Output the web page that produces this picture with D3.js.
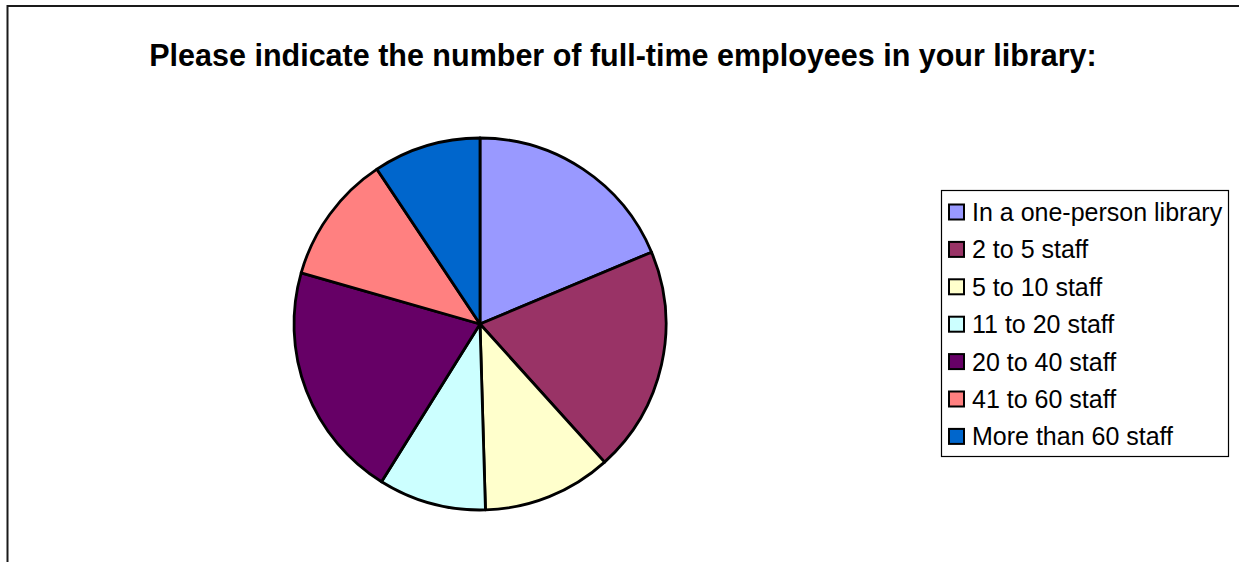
<!DOCTYPE html>
<html>
<head>
<meta charset="utf-8">
<script src="https://cdn.jsdelivr.net/npm/d3@7"></script>
<style>
  body { margin: 0; background: #fff; }
  text { font-family: "Liberation Sans", Arial, sans-serif; }
</style>
</head>
<body>
<svg id="chart" width="1239" height="562"></svg>
<script>
"use strict";

var TITLE = "Please indicate the number of full-time employees in your library:";
var categories = [
  "In a one-person library",
  "2 to 5 staff",
  "5 to 10 staff",
  "11 to 20 staff",
  "20 to 40 staff",
  "41 to 60 staff",
  "More than 60 staff",
];
var responses = [20, 21, 12, 10, 22, 12, 10];
var sliceColors = ["#9999FF", "#993366", "#FFFFCC", "#CCFFFF", "#660066", "#FF8080", "#0066CC"];

var svg = d3.select("#chart");

// chart area frame (runs off the right and bottom edges)
svg.append("rect")
  .attr("x", 7.5).attr("y", 6)
  .attr("width", 1400).attr("height", 800)
  .attr("fill", "#fff")
  .attr("stroke", "#1a1a1a")
  .attr("stroke-width", 2);

svg.append("text")
  .attr("x", 623).attr("y", 66)
  .attr("text-anchor", "middle")
  .style("font-weight", "bold")
  .style("font-size", "30.5px")
  .text(TITLE);

var data = categories.map((c, i) => ({ key: c, value: responses[i] }));
var color = d3.scaleOrdinal().domain(categories).range(sliceColors);

var pie = d3.pie().value((d) => d.value).sort(null);
var arc = d3.arc().innerRadius(0).outerRadius(186);

var g = svg.append("g").attr("transform", "translate(480,324)");

g.selectAll("path")
  .data(pie(data))
  .enter()
  .append("path")
  .attr("d", arc)
  .attr("fill", (d) => color(d.data.key))
  .attr("stroke", "#000")
  .attr("stroke-width", 2.8)
  .attr("stroke-linejoin", "round");

// legend
var legend = svg.append("g").attr("transform", "translate(941,190)");

legend.append("rect")
  .attr("x", 0.5).attr("y", 0.5)
  .attr("width", 287).attr("height", 266)
  .attr("fill", "#fff")
  .attr("stroke", "#000")
  .attr("stroke-width", 1.2);

var rows = legend.selectAll(".row")
  .data(categories)
  .enter()
  .append("g")
  .attr("class", "row")
  .attr("transform", (d, i) => "translate(0," + (22 + i * 37.4) + ")");

rows.append("rect")
  .attr("x", 8).attr("y", -7.5)
  .attr("width", 15).attr("height", 15)
  .attr("fill", (d) => color(d))
  .attr("stroke", "#000")
  .attr("stroke-width", 2);

rows.append("text")
  .attr("x", 31).attr("y", 0)
  .attr("dy", "0.36em")
  .style("font-size", "25px")
  .text((d) => d);
</script>
</body>
</html>
